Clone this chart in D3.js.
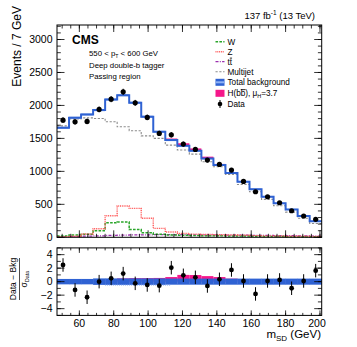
<!DOCTYPE html>
<html>
<head>
<meta charset="utf-8">
<script src="https://cdn.jsdelivr.net/npm/d3@7"></script>
<style>
  body { margin: 0; background: #fff; }
  text { font-family: "Liberation Sans", Arial, sans-serif; fill: #000; }
</style>
</head>
<body>
<svg id="chart" width="357" height="347"></svg>
<script>
// bin centres (7 GeV bins, 47-201 GeV)
const msd = [50.5, 57.5, 64.5, 71.5, 78.5, 85.5, 92.5, 99.5, 106.5, 113.5, 120.5,
             127.5, 134.5, 141.5, 148.5, 155.5, 162.5, 169.5, 176.5, 183.5, 190.5, 197.5];
const dataCounts = [1777, 1752, 1757, 1939, 2095, 2206, 2039, 1818, 1576, 1555, 1414,
                    1333, 1171, 1106, 1020, 848, 691, 615, 524, 403, 323, 273];
const totalBkg = [1661, 1812, 1864, 1929, 2091, 2156, 2040, 1828, 1600, 1474, 1388,
                  1312, 1197, 1095, 975, 843, 730, 615, 515, 423, 323, 245];
const bkgUnc = [18, 18, 18, 18, 18, 18, 18, 18, 16, 16, 16, 15, 15, 14, 14, 13, 12, 12, 11, 10, 10, 9];
const multijet = [1690, 1795, 1812, 1803, 1752, 1676, 1615, 1539, 1500, 1398, 1323,
                  1262, 1145, 1070, 955, 800, 690, 575, 478, 382, 288, 210];
const wJets = [20, 35, 45, 100, 220, 232, 118, 70, 45, 35, 30, 26, 24, 22, 20, 18, 16, 14, 12, 10, 9, 8];
const zJets = [10, 15, 50, 130, 327, 474, 439, 288, 136, 80, 60, 48, 42, 38, 34, 30, 26, 22, 20, 17, 15, 12];
const ttbar = [8, 12, 18, 22, 28, 32, 36, 38, 40, 40, 40, 38, 36, 35, 34, 32, 30, 28, 26, 24, 22, 20];
const signal = [0, 0, 0, 0, 0, 0, 3, 6, 10, 24, 38, 36, 26, 18, 8, 0, 0, 0, 0, 0, 0, 0];
// lower panel: (data - bkg) / sigma_data
const pull = [2.47, -1.23, -2.31, 0.0, 0.49, 1.19, -0.25, -0.49, -0.59, 2.07, 0.94,
              0.64, -0.64, 0.35, 1.73, 0.1, -1.82, 0.1, 0.25, -0.98, 0.1, 1.63];
const pullErr = [1, 1, 1, 1, 1, 1, 1, 1, 1, 1, 1, 1, 1, 1, 1, 1, 1, 1, 1, 1, 1, 1];
const sigPull = [0, 0, 0, 0, 0, 0.48, 0.52, 0.52, 0.55, 0.68, 1.0, 0.98, 0.82, 0.68, 0.45, 0, 0, 0, 0, 0, 0, 0];
const bandPull = [0.4, 0.4, 0.4, 0.48, 0.48, 0.48, 0.48, 0.48, 0.48, 0.45, 0.45,
                  0.45, 0.45, 0.45, 0.45, 0.45, 0.45, 0.45, 0.45, 0.45, 0.45, 0.45];
const yTicksMain = [0, 500, 1000, 1500, 2000, 2500, 3000];
const yTicksPull = [-4, -2, 0, 2, 4];
const xTicks = [60, 80, 100, 120, 140, 160, 180, 200];
const binW = 7;

const svg = d3.select("#chart");
const left = 57, right = 321.7;
const x = d3.scaleLinear().domain([47, 201]).range([left, right]);
const y = d3.scaleLinear().domain([0, 3220]).range([237.3, 25]);
const yr = d3.scaleLinear().domain([-5, 5]).range([315.4, 247.9]);

const cBlue = "#2f62d3", cPink = "#f5168a";

// step outline helper
function stepPath(vals, ys) {
  const pts = vals.map((v, i) => [x(msd[i] - binW / 2), ys(v)]);
  pts.push([x(msd[msd.length - 1] + binW / 2), ys(vals[vals.length - 1])]);
  return d3.line().curve(d3.curveStepAfter)(pts);
}

const main = svg.append("g");

// background uncertainty band
main.selectAll(".unc")
  .data(totalBkg)
  .join("rect")
    .attr("x", (d, i) => x(msd[i] - binW / 2))
    .attr("width", x(binW) - x(0))
    .attr("y", (d, i) => y(d + bkgUnc[i]))
    .attr("height", (d, i) => y(d - bkgUnc[i]) - y(d + bkgUnc[i]))
    .attr("fill", "#a9c1ef");

// signal stacked on total background
main.selectAll(".sig")
  .data(signal)
  .join("rect")
    .attr("x", (d, i) => x(msd[i] - binW / 2))
    .attr("width", x(binW) - x(0))
    .attr("y", (d, i) => y(totalBkg[i] + d))
    .attr("height", (d, i) => y(totalBkg[i]) - y(totalBkg[i] + d))
    .attr("fill", cPink);

const comps = [
  { vals: multijet, color: "#8c8c8c", dash: "2.2,1.6", w: 1.1 },
  { vals: ttbar, color: "#9b2fae", dash: "3,1.3,1,1.3", w: 1.2 },
  { vals: wJets, color: "#2aa52a", dash: "2.6,1.3", w: 1.5 },
  { vals: zJets, color: "#ff5a5a", dash: "1,0.8", w: 1.4 }
];
comps.forEach(c => {
  main.append("path")
    .attr("d", stepPath(c.vals, y))
    .attr("fill", "none")
    .attr("stroke", c.color)
    .attr("stroke-width", c.w)
    .attr("stroke-dasharray", c.dash);
});

main.append("path")
  .attr("d", stepPath(totalBkg, y))
  .attr("fill", "none")
  .attr("stroke", cBlue)
  .attr("stroke-width", 2);

// data points
main.selectAll(".err")
  .data(dataCounts)
  .join("line")
    .attr("x1", (d, i) => x(msd[i])).attr("x2", (d, i) => x(msd[i]))
    .attr("y1", d => y(d - Math.sqrt(d))).attr("y2", d => y(d + Math.sqrt(d)))
    .attr("stroke", "#000").attr("stroke-width", 1);
main.selectAll(".pt")
  .data(dataCounts)
  .join("circle")
    .attr("cx", (d, i) => x(msd[i]))
    .attr("cy", d => y(d))
    .attr("r", 2.6)
    .attr("fill", "#000");

// ratio panel
const low = svg.append("g");
low.selectAll(".sp")
  .data(sigPull)
  .join("rect")
    .attr("x", (d, i) => x(msd[i] - binW / 2))
    .attr("width", x(binW) - x(0))
    .attr("y", d => yr(d))
    .attr("height", d => yr(0) - yr(d))
    .attr("fill", cPink);
low.selectAll(".band")
  .data(bandPull)
  .join("rect")
    .attr("x", (d, i) => x(msd[i] - binW / 2))
    .attr("width", x(binW) - x(0) + 0.3)
    .attr("y", d => yr(d))
    .attr("height", d => yr(-d) - yr(d))
    .attr("fill", cBlue);
low.append("line")
  .attr("x1", x(75)).attr("x2", x(113))
  .attr("y1", yr(-0.45) + 0.5).attr("y2", yr(-0.45) + 0.5)
  .attr("stroke", "#8fb2f5").attr("stroke-width", 1).attr("stroke-dasharray", "1,1");
low.selectAll(".perr")
  .data(pull)
  .join("line")
    .attr("x1", (d, i) => x(msd[i])).attr("x2", (d, i) => x(msd[i]))
    .attr("y1", (d, i) => yr(d - pullErr[i])).attr("y2", (d, i) => yr(d + pullErr[i]))
    .attr("stroke", "#000").attr("stroke-width", 1);
low.selectAll(".pp")
  .data(pull)
  .join("circle")
    .attr("cx", (d, i) => x(msd[i]))
    .attr("cy", d => yr(d))
    .attr("r", 2.4)
    .attr("fill", "#000");

// axes with inward ticks (ROOT style)
function ticksX(g, yPos, inward, big, small) {
  const maj = d3.range(60, 201, 20), mnr = d3.range(50, 201, 5);
  g.selectAll(null).data(mnr).join("line")
    .attr("x1", d => x(d)).attr("x2", d => x(d))
    .attr("y1", yPos).attr("y2", yPos + inward * small)
    .attr("stroke", "#000").attr("stroke-width", 0.8);
  g.selectAll(null).data(maj).join("line")
    .attr("x1", d => x(d)).attr("x2", d => x(d))
    .attr("y1", yPos).attr("y2", yPos + inward * big)
    .attr("stroke", "#000").attr("stroke-width", 0.8);
}
function ticksY(g, ys, maj, step, lo, hi, big, small) {
  const mnr = d3.range(lo, hi + 1e-6, step);
  [[left, 1], [right, -1]].forEach(([xp, dir]) => {
    g.selectAll(null).data(mnr).join("line")
      .attr("x1", xp).attr("x2", xp + dir * small)
      .attr("y1", d => ys(d)).attr("y2", d => ys(d))
      .attr("stroke", "#000").attr("stroke-width", 0.8);
    g.selectAll(null).data(maj).join("line")
      .attr("x1", xp).attr("x2", xp + dir * big)
      .attr("y1", d => ys(d)).attr("y2", d => ys(d))
      .attr("stroke", "#000").attr("stroke-width", 0.8);
  });
}
const axes = svg.append("g");
ticksX(axes, 237.3, -1, 7, 3.5);
ticksX(axes, 25, 1, 7, 3.5);
ticksY(axes, y, yTicksMain, 100, 0, 3200, 7.5, 3.8);
ticksX(axes, 315.4, -1, 5, 2.5);
ticksX(axes, 247.9, 1, 5, 2.5);
ticksY(axes, yr, yTicksPull, 1, -5, 5, 7.5, 3.8);

axes.append("rect").attr("x", left).attr("y", 25)
  .attr("width", right - left).attr("height", 237.3 - 25)
  .attr("fill", "none").attr("stroke", "#000").attr("stroke-width", 1);
axes.append("rect").attr("x", left).attr("y", 247.9)
  .attr("width", right - left).attr("height", 315.4 - 247.9)
  .attr("fill", "none").attr("stroke", "#000").attr("stroke-width", 1);

// tick labels
axes.selectAll(".yl").data(yTicksMain).join("text")
  .attr("x", 52.5).attr("y", d => y(d)).attr("dy", "0.36em")
  .attr("text-anchor", "end").style("font-size", "10.5px").text(d => d);
axes.selectAll(".yrl").data(yTicksPull).join("text")
  .attr("x", 52.5).attr("y", d => yr(d)).attr("dy", "0.36em")
  .attr("text-anchor", "end").style("font-size", "10.5px")
  .text(d => d < 0 ? "\u2212" + Math.abs(d) : d);
axes.selectAll(".xl").data(xTicks).join("text")
  .attr("x", d => x(d) - (d === 200 ? 3 : 0)).attr("y", 326.5)
  .attr("text-anchor", "middle").style("font-size", "10.5px").text(d => d);

// titles
svg.append("text")
  .attr("transform", "translate(21,6) rotate(-90)")
  .attr("text-anchor", "end").style("font-size", "12px")
  .text("Events / 7 GeV");

const xt = svg.append("text").attr("x", 321).attr("y", 338)
  .attr("text-anchor", "end").style("font-size", "11.5px");
xt.append("tspan").text("m");
xt.append("tspan").attr("dy", 2.5).style("font-size", "8px").text("SD");
xt.append("tspan").attr("dy", -2.5).text(" (GeV)");

const frac = svg.append("g").attr("transform", "translate(0,279) rotate(-90)");
frac.append("text").attr("x", 0).attr("y", 16).attr("text-anchor", "middle")
  .style("font-size", "8.5px").text("Data \u2212 Bkg");
frac.append("line").attr("x1", -21).attr("x2", 21).attr("y1", 19.5).attr("y2", 19.5)
  .attr("stroke", "#000").attr("stroke-width", 0.7);
const den = frac.append("text").attr("x", 0).attr("y", 27).attr("text-anchor", "middle")
  .style("font-size", "8.5px");
den.append("tspan").text("\u03c3");
den.append("tspan").attr("dy", 1.8).style("font-size", "5.5px").text("Data");

const lumi = svg.append("text").attr("x", 315).attr("y", 18.5)
  .attr("text-anchor", "end").style("font-size", "9.5px");
lumi.append("tspan").text("137 fb");
lumi.append("tspan").attr("dy", -3.5).style("font-size", "6.5px").text("-1");
lumi.append("tspan").attr("dy", 3.5).text(" (13 TeV)");

svg.append("text").attr("x", 72).attr("y", 44).style("font-size", "12px")
  .style("font-weight", "bold").text("CMS");
const pt = svg.append("text").attr("x", 89).attr("y", 56).style("font-size", "7.8px");
pt.append("tspan").text("550 < p");
pt.append("tspan").attr("dy", 1.8).style("font-size", "5.2px").text("T");
pt.append("tspan").attr("dy", -1.8).text(" < 600 GeV");
svg.append("text").attr("x", 89).attr("y", 67.5).style("font-size", "7.8px").text("Deep double-b tagger");
svg.append("text").attr("x", 89).attr("y", 79).style("font-size", "7.8px").text("Passing region");

// legend
const lg = svg.append("g");
const lx = 215.5, lw = 9, tx = 227.5;
const rows = [41.7, 51.7, 61.7, 71.7, 82.3, 93.3, 104];
[comps[2], comps[3], comps[1], comps[0]].forEach((c, i) => {
  lg.append("line").attr("x1", lx).attr("x2", lx + lw)
    .attr("y1", rows[i]).attr("y2", rows[i])
    .attr("stroke", c.color).attr("stroke-width", c.w).attr("stroke-dasharray", c.dash);
});
lg.append("rect").attr("x", lx).attr("y", rows[4] - 3.5).attr("width", lw).attr("height", 7)
  .attr("fill", cBlue);
lg.append("rect").attr("x", lx + 0.5).attr("y", rows[4] - 1).attr("width", lw - 1).attr("height", 2)
  .attr("fill", "#8fb2f5");
lg.append("rect").attr("x", lx).attr("y", rows[5] - 3.5).attr("width", lw).attr("height", 7)
  .attr("fill", cPink);
lg.append("line").attr("x1", lx + lw / 2).attr("x2", lx + lw / 2)
  .attr("y1", rows[6] - 4).attr("y2", rows[6] + 4).attr("stroke", "#000");
lg.append("circle").attr("cx", lx + lw / 2).attr("cy", rows[6]).attr("r", 2.3).attr("fill", "#000");

const fs = "8.2px";
lg.append("text").attr("x", tx).attr("y", rows[0] + 3).style("font-size", fs).text("W");
lg.append("text").attr("x", tx).attr("y", rows[1] + 3).style("font-size", fs).text("Z");
const ttl = lg.append("text").attr("x", tx).attr("y", rows[2] + 3).style("font-size", fs);
ttl.append("tspan").text("t");
ttl.append("tspan").style("text-decoration", "overline").text("t");
lg.append("text").attr("x", tx).attr("y", rows[3] + 3).style("font-size", fs).text("Multijet");
lg.append("text").attr("x", tx).attr("y", rows[4] + 3).style("font-size", fs).text("Total background");
const hl = lg.append("text").attr("x", tx).attr("y", rows[5] + 3).style("font-size", fs);
hl.append("tspan").text("H(b");
hl.append("tspan").style("text-decoration", "overline").text("b");
hl.append("tspan").text("), \u03bc");
hl.append("tspan").attr("dy", 1.8).style("font-size", "5.5px").text("H");
hl.append("tspan").attr("dy", -1.8).text("=3.7");
lg.append("text").attr("x", tx).attr("y", rows[6] + 3).style("font-size", fs).text("Data");
</script>
</body>
</html>
